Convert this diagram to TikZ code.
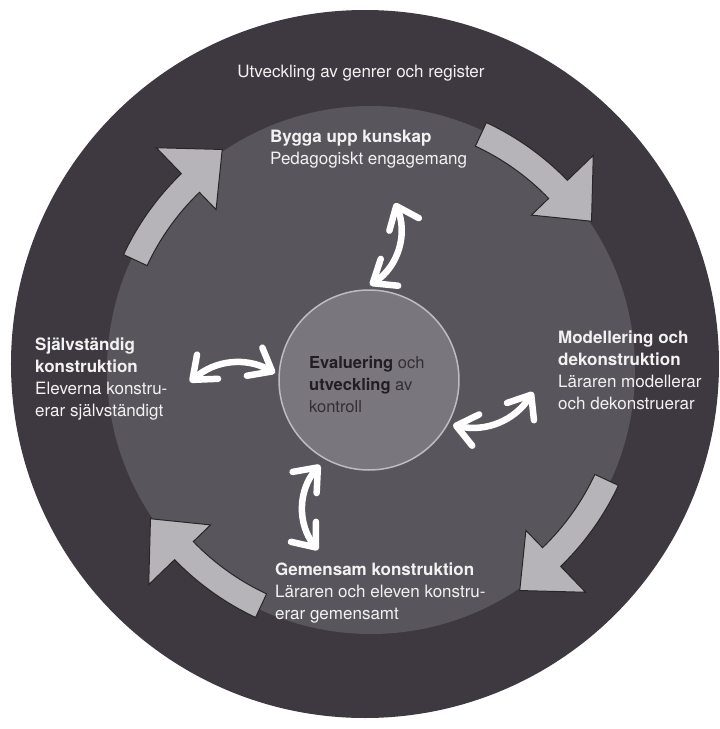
\documentclass[tikz,border=0pt]{standalone}
\usepackage{fontspec}
\setmainfont{TeX Gyre Heros}
\usetikzlibrary{arrows.meta,calc,positioning}
\definecolor{ringdark}{RGB}{62,57,64}
\definecolor{ringmid}{RGB}{89,85,92}
\definecolor{corefill}{RGB}{122,118,125}
\definecolor{coreline}{RGB}{190,187,193}
\definecolor{cyclegray}{RGB}{182,180,184}
\definecolor{coretext}{RGB}{33,29,34}
\definecolor{coresoft}{RGB}{50,46,52}
\definecolor{labelwhite}{RGB}{242,242,242}

\begin{document}
\begin{tikzpicture}[x=1pt,y=1pt]
    \tikzstyle{phase}=[anchor=north west, inner sep=0pt, align=left, text=labelwhite, font=\fontsize{17}{22}\selectfont]
    \tikzstyle{bigarrow}=[fill=cyclegray, draw=black!85, line width=1pt, line join=miter]
    \tikzstyle{twoway}=[draw=white, line width=6.5pt, line cap=round,
        {Straight Barb[length=20pt,width=32pt,round]}-{Straight Barb[length=20pt,width=32pt,round]}]

    \useasboundingbox (-371,-359) rectangle (349,370);

    % Outer and middle rings
    \fill[ringdark] (-6,6) circle (354);
    \fill[ringmid] (0,0) circle (264);

    % Centre circle
    \node (core) [circle, minimum size=180pt, inner sep=0pt, fill=corefill, draw=coreline, line width=1.5pt] at (-2,-10) {};

    % Big cycle arrows, one per quarter
    \foreach \a in {90,0,-90,180}
        \filldraw[bigarrow] ({\a+65}:273) arc[start angle=\a+65, end angle=\a+44, radius=273]
            -- ({\a+44}:309) -- ({\a+34}:266) -- ({\a+44}:223) -- ({\a+44}:247)
            arc[start angle=\a+44, end angle=\a+65, radius=247] -- cycle;

    % Texts
    \node (title) [anchor=base, text=labelwhite, font=\fontsize{17}{22}\selectfont] at (-10,293) {Utveckling av genrer och register};
    \node (build) [phase] at (-101,240) {\textbf{Bygga upp kunskap}\\Pedagogiskt engagemang};
    \node (model) [phase] at (187,39) {\textbf{Modellering och}\\\textbf{dekonstruktion}\\Läraren modellerar\\och dekonstruerar};
    \node (joint) [phase] at (-96,-193) {\textbf{Gemensam konstruktion}\\Läraren och eleven konstru-\\erar gemensamt};
    \node (indep) [phase] at (-336,32) {\textbf{Självständig}\\\textbf{konstruktion}\\Eleverna konstru-\\erar självständigt};
    \node (eval) [phase, text=coresoft, font=\fontsize{16.5}{22}\selectfont] at (-62,14)
        {\textcolor{coretext}{\textbf{Evaluering}} och\\\textcolor{coretext}{\textbf{utveckling}} av\\kontroll};

    % Ends of the white double arrows
    \coordinate (up-in) at (-1,85);
    \coordinate (up-out) at (24,167);
    \coordinate (left-out) at (-181,-12);
    \coordinate (left-in) at (-96,-3);
    \coordinate (right-in) at (82,-55);
    \coordinate (right-out) at (162,-22);
    \coordinate (down-in) at (-51,-95);
    \coordinate (down-out) at (-53,-180);

    % White double arrows
    \draw[twoway] (up-in) to[bend right=40] (up-out);
    \draw[twoway] (left-out) to[bend left=35] (left-in);
    \draw[twoway] (right-in) to[bend right=35] (right-out);
    \draw[twoway] (down-in) to[bend right=40] (down-out);
\end{tikzpicture}
\end{document}
